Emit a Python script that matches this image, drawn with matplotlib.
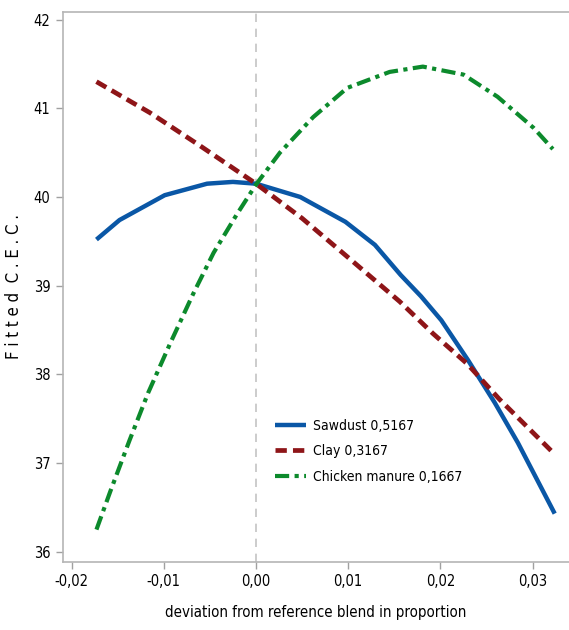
import matplotlib
matplotlib.use('Agg')
import matplotlib.pyplot as plt

# condensed face if it is around (DejaVu Sans Condensed)
plt.rcParams['font.family'] = 'DejaVu Sans'
plt.rcParams['font.stretch'] = 'condensed'

# data
saw_x = [-0.0173, -0.0148, -0.0099, -0.0053, -0.0025, 0.0, 0.0048, 0.0097, 0.0129,
         0.0157, 0.0179, 0.0201, 0.0230, 0.0259, 0.0284, 0.0324]
saw_y = [39.52, 39.74, 40.02, 40.15, 40.17, 40.15, 40.00, 39.72, 39.46,
         39.12, 38.88, 38.61, 38.16, 37.68, 37.23, 36.43]

clay_x = [-0.0173, -0.0115, -0.0061, 0.0, 0.0050, 0.0102, 0.0156, 0.0192, 0.0229, 0.0264, 0.0322]
clay_y = [41.30, 40.95, 40.58, 40.15, 39.76, 39.30, 38.82, 38.46, 38.12, 37.72, 37.12]

chick_x = [-0.0173, -0.0158, -0.0137, -0.0117, -0.0093, -0.0068, -0.0046, -0.0021, 0.0,
           0.0026, 0.0062, 0.0099, 0.0145, 0.0181, 0.0225, 0.0262, 0.0301, 0.0322]
chick_y = [36.25, 36.68, 37.26, 37.79, 38.35, 38.91, 39.37, 39.80, 40.14,
           40.50, 40.90, 41.23, 41.41, 41.47, 41.38, 41.13, 40.78, 40.54]

labels = ['Sawdust 0,5167', 'Clay 0,3167', 'Chicken manure 0,1667']
xticks = [-0.02, -0.01, 0.0, 0.01, 0.02, 0.03]
yticks = [36, 37, 38, 39, 40, 41, 42]

fig = plt.figure(figsize=(5.69, 6.30), dpi=100)
ax = fig.add_axes([0.1107, 0.108, 0.8893, 0.873])

ax.axvline(0, color='#c4c4c4', lw=1.2, ls=(0, (5, 4)), zorder=1)

ax.plot(saw_x, saw_y, color='#0a57a6', lw=3.2, solid_capstyle='butt', label=labels[0], zorder=3)
l2, = ax.plot(clay_x, clay_y, color='#8e1518', lw=3.4, label=labels[1], zorder=3)
l2.set_dashes([2.4, 1.3])
l3, = ax.plot(chick_x, chick_y, color='#0c8a2c', lw=3.0, label=labels[2], zorder=3)
l3.set_dashes([3.4, 1.3, 1.0, 1.3])

ax.set_xlim(-0.02093, 0.03395)
ax.set_ylim(35.885, 42.086)
ax.set_xticks(xticks)
ax.set_xticklabels([('%.2f' % v).replace('.', ',') for v in xticks])
ax.set_yticks(yticks)
ax.set_yticklabels([str(v) for v in yticks])

for s in ax.spines.values():
    s.set_color('#b5b5b5')
    s.set_linewidth(1.2)
ax.spines['right'].set_visible(False)
ax.tick_params(direction='out', length=5, width=1, color='#a0a0a0', labelsize=10.5, pad=4)

ax.set_xlabel('deviation from reference blend in proportion', fontsize=10.8, labelpad=11)
ax.set_ylabel('F i t t e d  C . E . C .', fontsize=12)
ax.yaxis.set_label_coords(-0.08, 0.5)

leg = ax.legend(loc='upper left', bbox_to_anchor=(0.395, 0.283), frameon=False,
                fontsize=10, handlelength=2.2, handletextpad=0.5, labelspacing=0.82)

fig.savefig('out.png', dpi=100)
